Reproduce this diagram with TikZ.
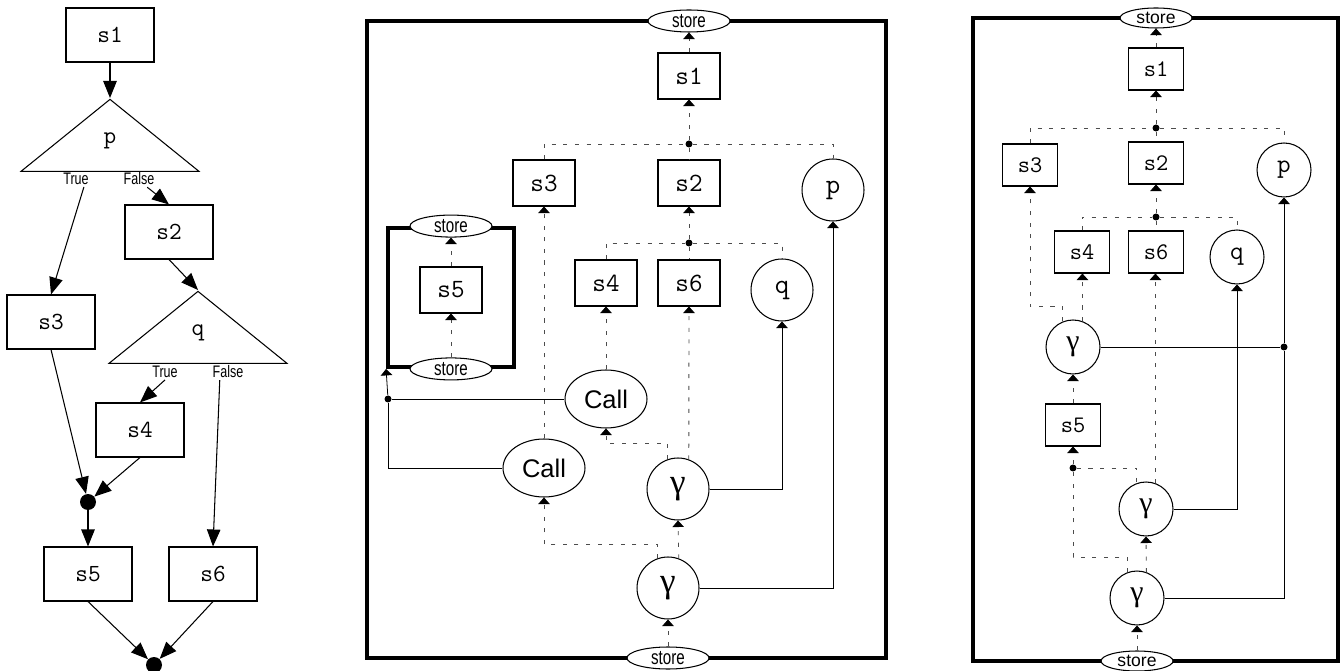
\documentclass[tikz,border=0pt]{standalone}
\usepackage{fontspec}
\setsansfont{Liberation Sans}
\newfontfamily\grk{Liberation Serif}
\usepackage{graphicx}
\usetikzlibrary{shapes.geometric,arrows.meta}

\newcommand{\narrowtext}[1]{\scalebox{0.75}[1]{#1}}

\begin{document}
\begin{tikzpicture}[x=0.02cm, y=-0.02cm,
  stmt/.style={draw, rectangle, inner sep=0pt, line width=0.6pt},
  bigbox/.style={stmt, minimum width=1.76cm, minimum height=1.08cm,
                 font=\fontsize{14}{14}\selectfont\ttfamily},
  box/.style={stmt, minimum width=1.24cm, minimum height=0.92cm,
              font=\fontsize{15}{15}\selectfont\ttfamily},
  smallbox/.style={stmt, minimum width=1.1cm, minimum height=0.84cm,
                   font=\fontsize{13.5}{13.5}\selectfont\ttfamily},
  tri/.style={draw, isosceles triangle, shape border rotate=90,
              isosceles triangle stretches, inner sep=0pt,
              minimum width=3.56cm, minimum height=1.44cm, line width=0.6pt,
              font=\fontsize{14}{14}\selectfont\ttfamily},
  branch/.style={font=\fontsize{9.5}{10}\selectfont\sffamily, inner sep=1pt},
  merge/.style={circle, fill, inner sep=0pt, minimum size=0.32cm},
  pred/.style={draw, circle, inner sep=0pt, minimum size=1.24cm, line width=0.6pt,
               font=\fontsize{16}{16}\selectfont\ttfamily},
  smallpred/.style={pred, minimum size=1.08cm, font=\fontsize{15}{15}\selectfont\ttfamily},
  gam/.style={pred, font=\fontsize{20}{20}\selectfont\grk},
  smallgam/.style={pred, minimum size=1.08cm, font=\fontsize{17}{17}\selectfont\grk},
  call/.style={draw, ellipse, inner sep=0pt, minimum width=1.64cm, minimum height=1.16cm,
               line width=0.6pt, font=\fontsize{14.5}{15}\selectfont\sffamily},
  store/.style={draw, ellipse, fill=white, inner sep=0pt, line width=0.6pt,
                minimum width=1.64cm, minimum height=0.44cm,
                font=\fontsize{11.5}{12}\selectfont\sffamily},
  smallstore/.style={store, minimum width=1.44cm, minimum height=0.4cm,
                     font=\fontsize{10}{10}\selectfont\sffamily},
  border/.style={draw, rectangle, line width=2.2pt, inner sep=0pt},
  junction/.style={circle, fill, inner sep=0pt, minimum size=0.14cm},
  flow/.style={line width=0.6pt, -{Triangle[length=3.4mm,width=2.7mm]}},
  dep/.style={draw=black!70, line width=0.5pt, dash pattern=on 2.3pt off 4.3pt},
  val/.style={line width=0.45pt},
  uptip/.style={-{Triangle[length=1.3mm,width=2.3mm,color=black]}},
]
\useasboundingbox (0,0) rectangle (1344,671);

% --- control flow graph ---
\node[bigbox] (s1) at (110,35) {s1};
\node[tri, anchor=apex] (p) at (110,98) {p};
\node[branch] (pT) at (76,179) {\narrowtext{True}};
\node[branch] (pF) at (139,179) {\narrowtext{False}};
\node[bigbox] (s2) at (169,232) {s2};
\node[bigbox] (s3) at (51,322) {s3};
\node[tri, anchor=apex] (q) at (198,290) {q};
\node[branch] (qT) at (165,372) {\narrowtext{True}};
\node[branch] (qF) at (228,372) {\narrowtext{False}};
\node[bigbox] (s4) at (140,430) {s4};
\node[merge] (m1) at (88,502) {};
\node[bigbox] (s5) at (88,574) {s5};
\node[bigbox] (s6) at (213,574) {s6};
\node[merge] (m2) at (154,665) {};

\draw[flow] (s1) -- (p.apex);
\draw[flow] (pT.-45) -- (s3.north);
\draw[flow] (pF.-45) -- (s2.north);
\draw[flow] (s2.south) -- (q.apex);
\draw[flow] (qT.south) -- (s4.north);
\draw[flow] (qF.-135) -- (s6.north);
\draw[flow] (s3.south) -- (m1);
\draw[flow] (s4.south) -- (m1);
\draw[flow] (m1) -- (s5);
\draw[flow] (s5.south) -- (m2);
\draw[flow] (s6.south) -- (m2);

% --- dependence graph, with procedure ---
\node[border, minimum width=10.38cm, minimum height=12.74cm] (fr2) at (626.5,339.5) {};
\node[store] (st2t) at (689,21) {\narrowtext{store}};
\node[store] (st2b) at (668,658) {\narrowtext{store}};
\node[border, minimum width=2.52cm, minimum height=2.78cm] (proc) at (451,297.5) {};
\node[store] (st2it) at (proc.north) {\narrowtext{store}};
\node[store] (st2ib) at (proc.south) {\narrowtext{store}};

\node[box] (s1m) at (689,76) {s1};
\node[junction] (j1m) at (689,144) {};
\node[box] (s3m) at (544,183) {s3};
\node[box] (s2m) at (689,183) {s2};
\node[pred] (pm) at (833,190) {p};
\node[junction] (j2m) at (689,243) {};
\node[box] (s4m) at (606,283) {s4};
\node[box] (s6m) at (689,283) {s6};
\node[pred] (qm) at (782,290) {q};
\node[box] (s5m) at (451,290) {s5};
\node[call] (c1m) at (606,399) {Call};
\node[call] (c2m) at (544,468) {Call};
\node[junction] (j3m) at (388,399) {};
\node[gam] (g1m) at (678,489) {γ};
\node[gam] (g2m) at (668,588) {γ};

\draw[dep, uptip] (s1m) -- (st2t);
\draw[dep, uptip] (j1m) -- (s1m);
\draw[dep] (s3m.north) |- (j1m) -| (pm.north);
\draw[dep] (j1m) -- (s2m);
\draw[dep, uptip] (j2m) -- (s2m);
\draw[dep] (s4m.north) |- (j2m) -| (qm.north);
\draw[dep] (j2m) -- (s6m);
\draw[dep, uptip] (st2ib) -- (s5m);
\draw[dep, uptip] (s5m) -- (st2it);
\draw[dep, uptip] (c1m) -- (s4m);
\draw[dep, uptip] (c2m) -- (s3m);
\draw[dep, uptip] (g1m.109) -- ++(0,-16) -| (c1m.south);
\draw[dep, uptip] (g1m.70) -- (s6m.south);
\draw[dep, uptip] (g2m.70) -- (g1m.south);
\draw[dep, uptip] (g2m.110) -- ++(0,-14) -| (c2m.south);
\draw[dep, uptip] (st2b) -- (g2m);
\draw[val, uptip] (g1m.east) -| (qm.south);
\draw[val, uptip] (g2m.east) -| (pm.south);
\draw[val] (c1m.west) -- (j3m);
\draw[val] (c2m.west) -| (j3m);
\draw[val, uptip] (j3m) -- (proc.south west);

% --- dependence graph, procedure inlined ---
\node[border, minimum width=7.3cm, minimum height=12.86cm] (fr3) at (1155.5,339.5) {};
\node[smallstore] (st3t) at (1156,18) {store};
\node[smallstore] (st3b) at (1137,661) {store};

\node[smallbox] (s1r) at (1156,69) {s1};
\node[junction] (j1r) at (1156,128) {};
\node[smallbox] (s3r) at (1030,165) {s3};
\node[smallbox] (s2r) at (1156,163) {s2};
\node[smallpred] (pr) at (1284,170) {p};
\node[junction] (j2r) at (1156,217) {};
\node[smallbox] (s4r) at (1082,252) {s4};
\node[smallbox] (s6r) at (1156,252) {s6};
\node[smallpred] (qr) at (1237,257) {q};
\node[smallgam] (g1r) at (1073,347) {γ};
\node[junction] (j4r) at (1284,347) {};
\node[smallbox] (s5r) at (1073,425) {s5};
\node[junction] (j3r) at (1073,468) {};
\node[smallgam] (g2r) at (1146,509) {γ};
\node[smallgam] (g3r) at (1137,598) {γ};

\draw[dep, uptip] (s1r) -- (st3t);
\draw[dep, uptip] (j1r) -- (s1r);
\draw[dep] (s3r.north) |- (j1r) -| (pr.north);
\draw[dep] (j1r) -- (s2r);
\draw[dep, uptip] (j2r) -- (s2r);
\draw[dep] (s4r.north) |- (j2r) -| (qr.north);
\draw[dep] (j2r) -- (s6r);
\draw[dep, uptip] (g1r.112) -- ++(0,-15) -| (s3r.south);
\draw[dep, uptip] (g1r.70) -- (g1r.70 |- s4r.south);
\draw[dep, uptip] (s5r) -- (g1r);
\draw[dep, uptip] (j3r) -- (s5r);
\draw[dep] (j3r) -| (g2r.110);
\draw[dep] (g3r.110) -- ++(0,-15) -| (j3r);
\draw[dep, uptip] (g2r.70) -- (g2r.70 |- s6r.south);
\draw[dep, uptip] (g3r.70) -- (g2r.south);
\draw[dep, uptip] (st3b) -- (g3r);
\draw[val, uptip] (g2r.east) -| (qr.south);
\draw[val] (g1r.east) -- (j4r);
\draw[val, uptip] (g3r.east) -| (j4r) -- (pr.south);

\end{tikzpicture}
\end{document}
